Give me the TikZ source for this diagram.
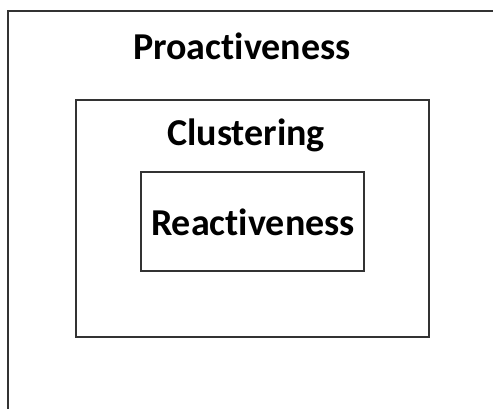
\documentclass[tikz,border=0pt]{standalone}
\usepackage{fontspec}
\setmainfont[Ligatures={NoCommon}]{Carlito}
\usetikzlibrary{positioning}
\definecolor{mgray}{rgb}{0.2, 0.2, 0.2}

\begin{document}
\begin{tikzpicture}[x=1pt, y=-1pt,
    layer/.style={draw=mgray, line width=2pt},
    label/.style={anchor=base, inner sep=0pt, font=\bfseries\fontsize{38}{42}\selectfont}]
    \useasboundingbox (0, 0) rectangle (493, 408);

    % nested layers, the outer one runs off the page
    \begin{scope}
      \clip (0, 0) rectangle (493, 408);
      \draw [layer, line width=2.4pt] (8, 11) rectangle (510, 430);
    \end{scope}
    \draw [layer] (75.5, 99.5) rectangle (429, 337);
    \draw [layer] (141, 172) rectangle (364, 271);

    \node [label] (proact) at (242, 59) {Proactiveness};
    \node [label] (clust) at (246, 145) {Clustering};
    \node [label] (react) at (253, 235) {Reactiveness};
  \end{tikzpicture}
\end{document}
